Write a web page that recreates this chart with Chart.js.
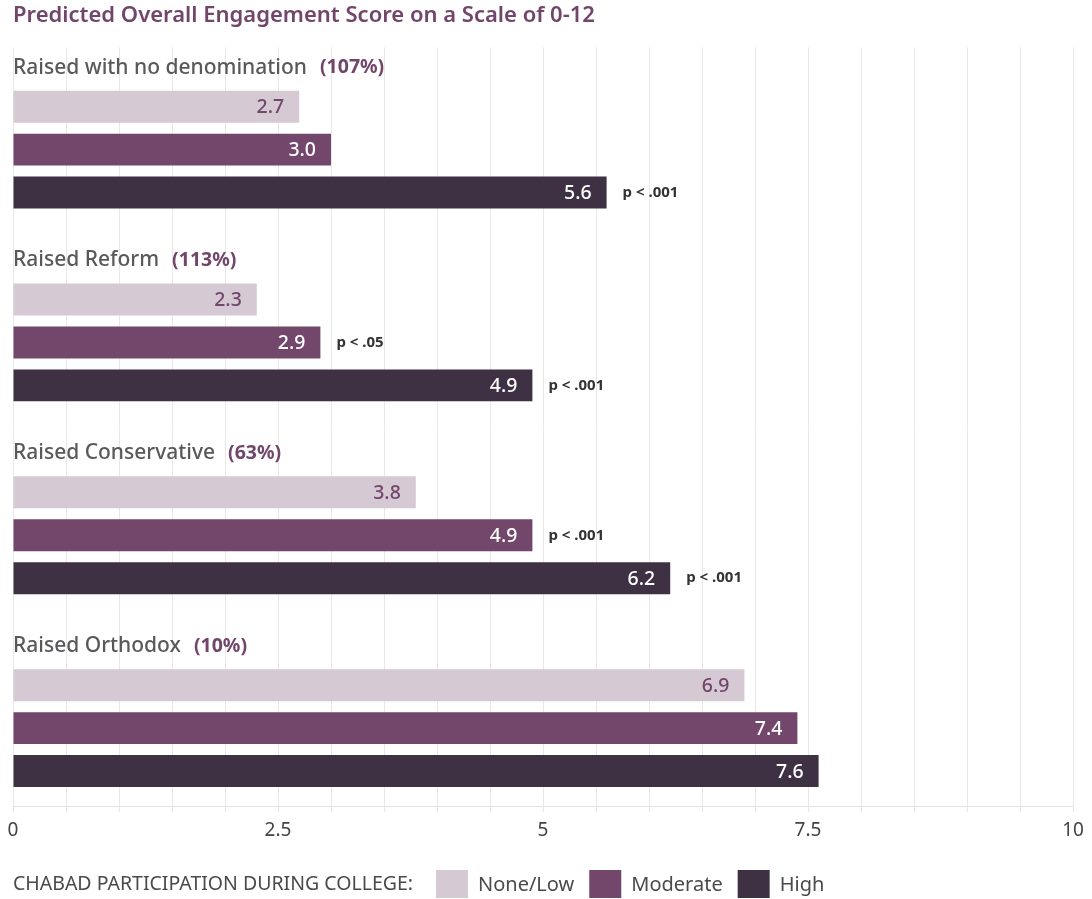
<!DOCTYPE html>
<html>
<head>
<meta charset="utf-8">
<script src="https://cdn.jsdelivr.net/npm/chart.js@4"></script>
<style>
  html, body { margin: 0; background: #fff; }
  #wrap { width: 1092px; height: 899px; position: relative; }
</style>
</head>
<body>
<div id="wrap"><canvas id="chart"></canvas></div>
<script>
// Data
const groups = ["Raised with no denomination", "Raised Reform", "Raised Conservative", "Raised Orthodox"];
const groupShares = ["(107%)", "(113%)", "(63%)", "(10%)"];
const seriesNames = ["None/Low", "Moderate", "High"];
const noneLow = [2.7, 2.3, 3.8, 6.9];
const moderate = [3.0, 2.9, 4.9, 7.4];
const high = [5.6, 4.9, 6.2, 7.6];
const pNoneLow = ["", "", "", ""];
const pModerate = ["", "p < .05", "p < .001", ""];
const pHigh = ["p < .001", "p < .001", "p < .001", ""];
const xTickLabels = [0, 2.5, 5, 7.5, 10];
const legendTitle = "CHABAD PARTICIPATION DURING COLLEGE:";

const colors = ["#d5c9d3", "#73466b", "#3d3143"];
const valueColors = ["#73466b", "#ffffff", "#ffffff"];
const purple = "#72466b";
const font = '"Noto Sans", sans-serif';
const pLabels = [pNoneLow, pModerate, pHigh];

// group headings, value labels, p-values and the legend row
const annotate = {
  id: "annotate",
  afterDatasetsDraw(chart) {
    const ctx = chart.ctx;
    const left = chart.chartArea.left;
    ctx.save();
    ctx.textBaseline = "middle";

    groups.forEach((g, i) => {
      const firstBar = chart.getDatasetMeta(0).data[i];
      const yy = firstBar.y - 39;
      ctx.font = "500 21px " + font;
      ctx.fillStyle = "#58595b";
      ctx.textAlign = "left";
      ctx.fillText(g, left, yy);
      const w = ctx.measureText(g).width;
      ctx.font = "bold 19.5px " + font;
      ctx.fillStyle = purple;
      ctx.fillText(groupShares[i], left + w + 13, yy);
    });

    chart.data.datasets.forEach((ds, di) => {
      chart.getDatasetMeta(di).data.forEach((bar, i) => {
        ctx.font = "500 19.5px " + font;
        ctx.fillStyle = valueColors[di];
        ctx.textAlign = "right";
        ctx.fillText(ds.data[i].x.toFixed(1), bar.x - 15, bar.y + 1);
        const p = pLabels[di][i];
        if (p) {
          ctx.font = "bold 15px " + font;
          ctx.fillStyle = "#333333";
          ctx.textAlign = "left";
          ctx.fillText(p, bar.x + 16, bar.y);
        }
      });
    });

    // legend
    const ly = 884;
    ctx.textAlign = "left";
    ctx.font = "19.5px " + font;
    ctx.fillStyle = "#4a4a4a";
    ctx.fillText(legendTitle, left, ly);
    let x = left + ctx.measureText(legendTitle).width + 23;
    ctx.font = "20px " + font;
    seriesNames.forEach((name, i) => {
      ctx.fillStyle = colors[i];
      ctx.fillRect(x, ly - 14, 32, 28);
      x += 42;
      ctx.fillStyle = "#4a4a4a";
      ctx.fillText(name, x, ly + 1);
      x += ctx.measureText(name).width + 15;
    });
    ctx.restore();
  }
};

new Chart(document.getElementById("chart"), {
  type: "bar",
  data: {
    datasets: [
      { label: seriesNames[0], data: noneLow.map((v, i) => ({ x: v, y: i })), backgroundColor: colors[0] },
      { label: seriesNames[1], data: moderate.map((v, i) => ({ x: v, y: i })), backgroundColor: colors[1] },
      { label: seriesNames[2], data: high.map((v, i) => ({ x: v, y: i })), backgroundColor: colors[2] }
    ]
  },
  options: {
    indexAxis: "y",
    responsive: true,
    maintainAspectRatio: false,
    animation: false,
    categoryPercentage: 0.668,
    barPercentage: 0.744,
    layout: { padding: { top: 0, left: 13, right: 19, bottom: 50 } },
    scales: {
      x: {
        min: 0,
        max: 10,
        grid: { color: "#e8e8e8", tickLength: 6 },
        border: { color: "#e3e3e3" },
        ticks: {
          stepSize: 0.5,
          autoSkip: false,
          maxRotation: 0,
          padding: 7,
          color: "#444444",
          font: { family: font, size: 19 },
          callback: v => xTickLabels.includes(v) ? String(v) : ""
        }
      },
      y: {
        type: "linear",
        reverse: true,
        offset: false,
        grid: { offset: false },
        min: -0.53,
        max: 3.405,
        display: false,
        afterBuildTicks: s => { s.ticks = groups.map((g, i) => ({ value: i })); }
      }
    },
    plugins: {
      legend: { display: false },
      tooltip: { enabled: false },
      title: {
        display: true,
        text: "Predicted Overall Engagement Score on a Scale of 0-12",
        align: "start",
        color: purple,
        font: { family: font, size: 22, weight: "600" },
        padding: { top: 3, bottom: 18 }
      }
    }
  },
  plugins: [annotate]
});
</script>
</body>
</html>
